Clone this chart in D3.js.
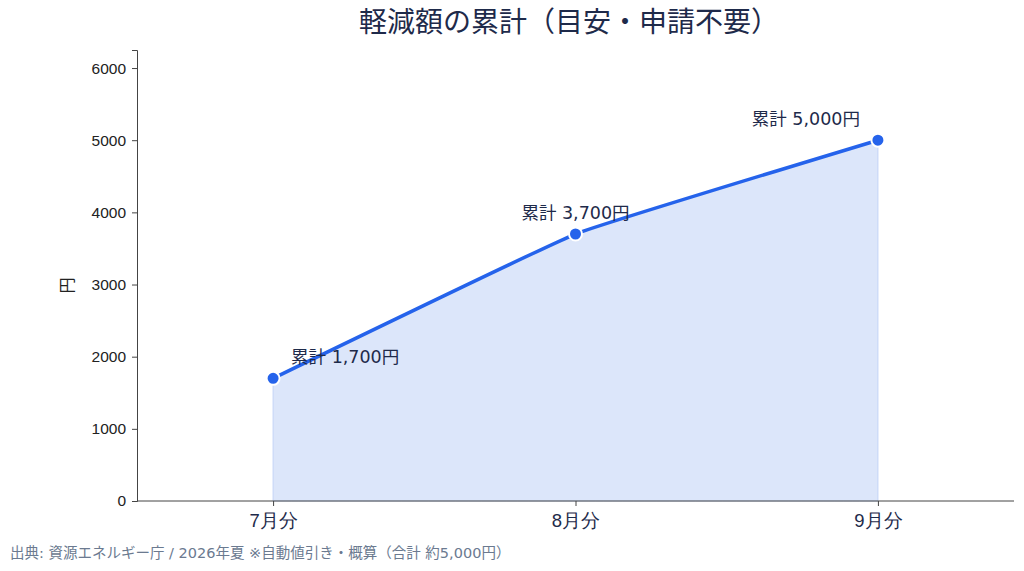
<!DOCTYPE html>
<html>
<head>
<meta charset="utf-8">
<script src="https://cdn.jsdelivr.net/npm/d3@7"></script>
<style>
  body { margin: 0; background: #fff; }
  svg { display: block; font-family: "DejaVu Sans", "Noto Sans CJK JP", sans-serif; }
  .axis path, .axis line { stroke: #444; }
  .y-axis text { fill: #222; font-size: 15.5px; }
  .x-axis text { fill: #1e2a4a; font-size: 18.5px; }
</style>
</head>
<body>
<svg id="chart" width="1024" height="571"></svg>
<script>
const months = ['7月分', '8月分', '9月分'];
const cumulative = [1700, 3700, 5000];
const labels = ['累計 1,700円', '累計 3,700円', '累計 5,000円'];
const yTicks = [0, 1000, 2000, 3000, 4000, 5000, 6000];

const width = 1024, height = 571;
const margin = { top: 50, right: 10, bottom: 70, left: 137 };

const svg = d3.select('#chart');

const x = d3.scalePoint()
  .domain(months)
  .range([margin.left, width - margin.right])
  .padding(0.45);

const y = d3.scaleLinear()
  .domain([0, 6250])
  .range([height - margin.bottom, margin.top]);

const data = months.map((m, i) => ({ month: m, value: cumulative[i], label: labels[i] }));

// slight smoothing only
const curve = d3.curveCardinal.tension(0.75);

// area under the line
svg.append('path')
  .datum(data)
  .attr('fill', '#dce6fa')
  .attr('stroke', '#c3d4f7')
  .attr('stroke-width', 1)
  .attr('d', d3.area()
    .x(d => x(d.month))
    .y0(y(0))
    .y1(d => y(d.value))
    .curve(curve));

// axes
svg.append('g')
  .attr('class', 'axis y-axis')
  .attr('transform', `translate(${margin.left},0)`)
  .call(d3.axisLeft(y).tickValues(yTicks).tickFormat(d3.format('d'))
    .tickSizeOuter(0).tickSize(5).tickPadding(6));

svg.append('g')
  .attr('class', 'axis x-axis')
  .attr('transform', `translate(0,${y(0)})`)
  .call(d3.axisBottom(x).tickSizeOuter(0).tickSize(5).tickPadding(8));

svg.selectAll('.x-axis .domain').attr('d', `M${margin.left},0H${width - margin.right}`);

// line
svg.append('path')
  .datum(data)
  .attr('fill', 'none')
  .attr('stroke', '#2563eb')
  .attr('stroke-width', 3.5)
  .attr('stroke-linecap', 'round')
  .attr('d', d3.line()
    .x(d => x(d.month))
    .y(d => y(d.value))
    .curve(curve));

// points
svg.selectAll('.pt')
  .data(data)
  .enter()
  .append('circle')
  .attr('class', 'pt')
  .attr('cx', d => x(d.month))
  .attr('cy', d => y(d.value))
  .attr('r', 6.5)
  .attr('fill', '#2563eb')
  .attr('stroke', '#fff')
  .attr('stroke-width', 2);

// value labels
const anchors = ['start', 'middle', 'end'];
const dx = [18, 0, -18];
svg.selectAll('.val')
  .data(data)
  .enter()
  .append('text')
  .attr('class', 'val')
  .attr('x', (d, i) => x(d.month) + dx[i])
  .attr('y', d => y(d.value) - 15)
  .attr('text-anchor', (d, i) => anchors[i])
  .attr('fill', '#1e2a4a')
  .attr('font-size', 17.5)
  .text(d => d.label);

// y label
svg.append('text')
  .attr('transform', `translate(73,${(y(0) + y(6250)) / 2 + 10}) rotate(-90)`)
  .attr('text-anchor', 'middle')
  .attr('fill', '#222')
  .attr('font-size', 16)
  .text('円');

// title
svg.append('text')
  .attr('x', 569)
  .attr('y', 32)
  .attr('text-anchor', 'middle')
  .attr('fill', '#1e2a4a')
  .attr('font-size', 28)
  .text('軽減額の累計（目安・申請不要）');

// source note
svg.append('text')
  .attr('x', 10)
  .attr('y', 558)
  .attr('fill', '#6b7a90')
  .attr('font-size', 14.5)
  .text('出典: 資源エネルギー庁 / 2026年夏 ※自動値引き・概算（合計 約5,000円）');
</script>
</body>
</html>
